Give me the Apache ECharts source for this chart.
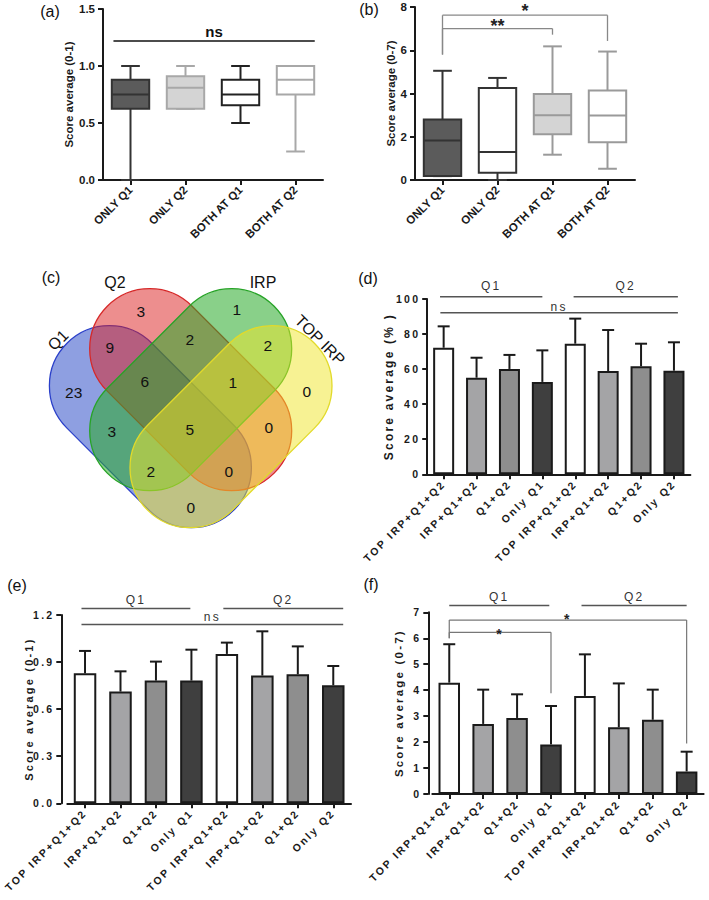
<!DOCTYPE html>
<html><head><meta charset="utf-8">
<script src="https://cdn.jsdelivr.net/npm/echarts@6.0.0/dist/echarts.min.js"></script>
<style>
html,body{margin:0;padding:0;background:#fff;}
.layer{position:absolute;left:0;top:0;width:709px;height:900px;}
.spaced text{letter-spacing:2.2px;}
</style></head><body>
<div id="pa" class="layer"></div>
<div id="pb" class="layer"></div>
<div id="pc" class="layer"></div>
<div id="pd" class="layer spaced"></div>
<div id="pe" class="layer spaced"></div>
<div id="pf" class="layer spaced"></div>
<script>
// ---------------- DATA ----------------
// (a) & (b) box plots: [min, Q1, median, Q3, max]
const boxCats = ['ONLY Q1', 'ONLY Q2', 'BOTH AT Q1', 'BOTH AT Q2'];
const aMin = [0, 0.624, 0.5, 0.25];
const aQ1  = [0.624, 0.624, 0.656, 0.75];
const aMed = [0.75, 0.809, 0.75, 0.879];
const aQ3  = [0.879, 0.909, 0.879, 1.0];
const aMax = [1.0, 1.0, 1.0, 1.0];
const aTicks = ['0.0', '0.5', '1.0', '1.5'];

const bMin = [0.18, 0, 1.17, 0.52];
const bQ1  = [0.18, 0.34, 2.11, 1.74];
const bMed = [1.83, 1.29, 3.0, 2.98];
const bQ3  = [2.8, 4.25, 3.98, 4.14];
const bMax = [5.05, 4.72, 6.18, 5.94];
const bTicks = ['0', '2', '4', '6', '8'];

// (c) Venn diagram
const vennSets = ['Q1', 'Q2', 'IRP', 'TOP IRP'];
const vennRegions = ['Q2 only', 'IRP only', 'Q1+Q2', 'Q2+IRP', 'IRP+TOP IRP', 'Q1 only',
  'Q1+Q2+IRP', 'Q2+IRP+TOP IRP', 'TOP IRP only', 'Q1+IRP', 'All four', 'Q2+TOP IRP',
  'Q1+IRP+TOP IRP', 'Q1+Q2+TOP IRP', 'Q1+TOP IRP'];
const vennCounts = [3, 1, 9, 2, 2, 23, 6, 1, 0, 3, 5, 0, 2, 0, 0];

// (d) (e) (f) bar charts: mean and SD
const barCats = ['TOP IRP+Q1+Q2', 'IRP+Q1+Q2', 'Q1+Q2', 'Only Q1', 'TOP IRP+Q1+Q2', 'IRP+Q1+Q2', 'Q1+Q2', 'Only Q2'];
const dMean = [72.2, 55.1, 60.1, 52.7, 74.5, 58.9, 61.6, 59.1];
const dSD   = [12.2, 11.4, 8.0, 18.0, 14.3, 23.4, 12.9, 16.2];
const dTicks = ['0', '20', '40', '60', '80', '100'];
const eMean = [0.828, 0.712, 0.782, 0.782, 0.952, 0.814, 0.822, 0.752];
const eSD   = [0.143, 0.129, 0.121, 0.197, 0.072, 0.282, 0.178, 0.123];
const eTicks = ['0.0', '0.3', '0.6', '0.9', '1.2'];
const fMean = [4.29, 2.70, 2.93, 1.91, 3.78, 2.57, 2.86, 0.87];
const fSD   = [1.48, 1.32, 0.91, 1.48, 1.60, 1.69, 1.16, 0.76];
const fTicks = ['0', '1', '2', '3', '4', '5', '6', '7'];

// ---------------- STYLE / LAYOUT ----------------
const FF = 'Arial, "Liberation Sans", Helvetica, sans-serif';
const INK = '#1a1a1a';
const barFill = ['#ffffff', '#a4a4a6', '#8e8e8e', '#3f3f3f', '#ffffff', '#a4a4a6', '#8e8e8e', '#3f3f3f'];
const aFill = ['#5b5b5b', '#d4d4d4', '#ffffff', '#ffffff'];
const aStroke = ['#333333', '#a8a8a8', '#222222', '#a8a8a8'];
const bFill = ['#5b5b5b', '#ffffff', '#d4d4d4', '#ffffff'];
const bStroke = ['#333333', '#333333', '#9a9a9a', '#9a9a9a'];

function mk(id) {
  return echarts.init(document.getElementById(id), null, {renderer: 'svg', width: 709, height: 900});
}

function catAxis(cats, fs, margin) {
  return {type: 'category', data: cats, boundaryGap: true,
    axisLine: {show: true, onZero: false, lineStyle: {color: INK, width: 2}},
    axisTick: {show: true, alignWithLabel: true, length: 5, lineStyle: {color: INK, width: 2}},
    axisLabel: {show: true, interval: 0, rotate: 45, margin: margin, color: INK, fontWeight: 'bold', fontSize: fs, fontFamily: FF},
    splitLine: {show: false}};
}
function valAxis(o) {
  return {type: 'value', min: o.min, max: o.max, interval: o.interval, offset: o.offset || 0,
    axisLine: {show: true, onZero: false, lineStyle: {color: INK, width: 2}},
    axisTick: {show: true, length: 5, lineStyle: {color: INK, width: 2}},
    axisLabel: {show: true, margin: o.lm || 7, color: INK, fontWeight: 'bold', fontSize: o.lfs, fontFamily: FF,
      formatter: function (v) { return o.ticks[Math.round((v - o.min) / o.interval)]; }},
    splitLine: {show: false},
    name: o.name, nameLocation: 'middle', nameGap: o.nameGap, nameRotate: 90,
    nameTextStyle: {color: INK, fontWeight: 'bold', fontSize: o.nfs, fontFamily: FF}};
}
function txt(x, y, text, s) {
  return {type: 'text', x: x, y: y, rotation: s.rot || 0,
    style: {text: text, fill: s.color || INK, fontSize: s.fs, fontWeight: s.fw || 'normal', fontFamily: FF,
      align: 'center', verticalAlign: 'middle', textAlign: 'center', textVerticalAlign: 'middle'}};
}
function annotRender(annots) {
  return function (params, api) {
    const a = annots[params.dataIndex];
    const bw = api.size([1, 0])[0];
    const X = (i, f) => api.coord([i, 0])[0] + f * bw;
    const Y = v => api.coord([0, v])[1];
    const x0 = X(a.i0, a.f0), x1 = X(a.i1, a.f1), y = Y(a.y);
    const ls = {stroke: a.color, lineWidth: a.lw};
    const ch = [{type: 'line', shape: {x1: x0, y1: y, x2: x1, y2: y}, style: ls}];
    if (a.d0 != null) ch.push({type: 'line', shape: {x1: x0, y1: y, x2: x0, y2: Y(a.d0)}, style: ls});
    if (a.d1 != null) ch.push({type: 'line', shape: {x1: x1, y1: y, x2: x1, y2: Y(a.d1)}, style: ls});
    if (a.text) ch.push(txt((x0 + x1) / 2, Y(a.ty), a.text, {color: a.tc, fs: a.fs, fw: a.fw}));
    return {type: 'group', children: ch};
  };
}
function boxRender(fills, strokes) {
  return function (params, api) {
    const k = params.dataIndex;
    const i = api.value(0);
    const pMin = api.coord([i, api.value(1)]), pQ1 = api.coord([i, api.value(2)]),
      pMed = api.coord([i, api.value(3)]), pQ3 = api.coord([i, api.value(4)]), pMax = api.coord([i, api.value(5)]);
    const x = pMed[0];
    const bw = api.size([1, 0])[0] * 0.68;
    const cw = bw * 0.5;
    const st = {stroke: strokes[k], lineWidth: 2};
    return {type: 'group', children: [
      {type: 'line', shape: {x1: x, y1: pQ3[1], x2: x, y2: pMax[1]}, style: st},
      {type: 'line', shape: {x1: x - cw / 2, y1: pMax[1], x2: x + cw / 2, y2: pMax[1]}, style: st},
      {type: 'line', shape: {x1: x, y1: pQ1[1], x2: x, y2: pMin[1]}, style: st},
      {type: 'line', shape: {x1: x - cw / 2, y1: pMin[1], x2: x + cw / 2, y2: pMin[1]}, style: st},
      {type: 'rect', shape: {x: x - bw / 2, y: pQ3[1], width: bw, height: pQ1[1] - pQ3[1]},
        style: {fill: fills[k], stroke: strokes[k], lineWidth: 2}},
      {type: 'line', shape: {x1: x - bw / 2, y1: pMed[1], x2: x + bw / 2, y2: pMed[1]}, style: st}
    ]};
  };
}
function errRender(params, api) {
  const p0 = api.coord([api.value(0), api.value(1)]);
  const p1 = api.coord([api.value(0), api.value(2)]);
  const cw = 12;
  return {type: 'group', children: [
    {type: 'line', shape: {x1: p0[0], y1: p0[1], x2: p1[0], y2: p1[1]}, style: {stroke: INK, lineWidth: 2}},
    {type: 'line', shape: {x1: p1[0] - cw / 2, y1: p1[1], x2: p1[0] + cw / 2, y2: p1[1]}, style: {stroke: INK, lineWidth: 2}}
  ]};
}

function boxOption(o) {
  return {animation: false, backgroundColor: 'transparent',
    grid: {left: o.g[0], top: o.g[1], width: o.g[2], height: o.g[3]},
    xAxis: catAxis(boxCats, 11.5, 8),
    yAxis: valAxis({min: 0, max: o.max, interval: o.interval, ticks: o.ticks, lfs: 11.5, lm: 8,
      name: 'Score average (' + o.range + ')', nameGap: o.nameGap, nfs: 11.5}),
    series: [
      {type: 'custom', silent: true, clip: false, renderItem: boxRender(o.fills, o.strokes),
        encode: {x: 0, y: [1, 2, 3, 4, 5]},
        data: boxCats.map((c, i) => [i, o.mn[i], o.q1[i], o.md[i], o.q3[i], o.mx[i]])},
      {type: 'custom', silent: true, clip: false, renderItem: annotRender(o.annots), z: 5,
        encode: {x: 0, y: 1}, data: o.annots.map(a => [a.i0, a.y])}
    ]};
}
function barOption(o) {
  return {animation: false, backgroundColor: 'transparent',
    grid: {left: o.g[0], top: o.g[1], width: o.g[2], height: o.g[3]},
    xAxis: catAxis(barCats, 10.5, 8),
    yAxis: valAxis({min: 0, max: o.max, interval: o.interval, ticks: o.ticks, lfs: 10.5, lm: 7, offset: o.offset,
      name: o.name, nameGap: o.nameGap, nfs: o.nfs}),
    series: [
      {type: 'bar', silent: true, barWidth: o.bw, z: 2,
        itemStyle: {borderColor: INK, borderWidth: 2},
        data: o.mean.map((v, i) => ({value: v, itemStyle: {color: barFill[i], borderColor: INK, borderWidth: 2}}))},
      {type: 'custom', silent: true, clip: false, renderItem: errRender, z: 3,
        encode: {x: 0, y: [1, 2]}, data: o.mean.map((v, i) => [i, v, v + o.sd[i]])},
      {type: 'custom', silent: true, clip: false, renderItem: annotRender(o.annots), z: 4,
        encode: {x: 0, y: 1}, data: o.annots.map(a => [a.i0, a.y])}
    ]};
}

// ---------------- (a) ----------------
mk('pa').setOption(boxOption({g: [103, 9, 220, 171], max: 1.5, interval: 0.5, ticks: aTicks, range: '0-1', nameGap: 25,
  mn: aMin, q1: aQ1, md: aMed, q3: aQ3, mx: aMax, fills: aFill, strokes: aStroke,
  annots: [{i0: 0, f0: -0.31, i1: 3, f1: 0.35, y: 1.22, text: 'ns', ty: 1.30, color: '#111', lw: 1.5, tc: '#111', fs: 15, fw: 'bold'}]}));

// ---------------- (b) ----------------
mk('pb').setOption(boxOption({g: [415, 7, 220, 173], max: 8, interval: 2, ticks: bTicks, range: '0-7', nameGap: 17,
  mn: bMin, q1: bQ1, md: bMed, q3: bQ3, mx: bMax, fills: bFill, strokes: bStroke,
  annots: [
    {i0: 0, f0: 0, i1: 3, f1: 0, y: 7.62, d0: 5.8, d1: 6.43, text: '*', ty: 7.8, color: '#888', lw: 1.3, tc: '#222', fs: 18, fw: 'bold'},
    {i0: 0, f0: 0, i1: 2, f1: 0, y: 7.0, d0: 5.8, d1: 6.72, text: '**', ty: 7.1, color: '#888', lw: 1.3, tc: '#222', fs: 18, fw: 'bold'}
  ]}));

// ---------------- (c) Venn + panel letters ----------------
const vennCenter = [[-4.03, 0], [0, 3.7], [0, 3.7], [4.03, 0]];
const vennAngle = [-45, -45, 45, 45];
const vennHalfLen = 5.8, vennRadius = 6.0;
const vennFill = ['rgba(50,80,200,0.55)', 'rgba(220,30,30,0.5)', 'rgba(40,170,40,0.55)', 'rgba(240,230,40,0.5)'];
const vennStroke = ['#2a3fc9', '#d62828', '#27a327', '#e2da2a'];
const vennPos = [[-5.0, 11.5], [4.6, 11.7], [-8.1, 7.9], [-0.1, 8.7], [7.7, 8.1], [-11.7, 3.4], [-4.6, 4.5], [4.2, 4.4],
  [11.6, 3.5], [-7.9, -0.5], [-0.1, -0.3], [7.8, -0.1], [-4.0, -4.5], [3.8, -4.5], [0, -8.1]];
const vennLabelPos = [[-13.27, 8.67, 45], [-7.57, 14.47, 0], [7.23, 14.47, 0], [12.93, 8.67, -45]];

mk('pc').setOption({animation: false, backgroundColor: 'transparent',
  grid: {left: 40.7, top: 276.7, width: 300, height: 300},
  xAxis: {type: 'value', min: -15, max: 15, show: false},
  yAxis: {type: 'value', min: -15, max: 15, show: false},
  series: [
    {type: 'custom', silent: true, clip: false,
      data: vennSets.map((s, i) => [vennCenter[i][0], vennCenter[i][1]]),
      renderItem: function (params, api) {
        const i = params.dataIndex;
        const c = api.coord([api.value(0), api.value(1)]);
        const u = api.size([1, 1])[0];
        const L = vennHalfLen * u, R = vennRadius * u;
        return {type: 'rect', x: c[0], y: c[1], rotation: vennAngle[i] * Math.PI / 180,
          shape: {x: -L - R, y: -R, width: 2 * (L + R), height: 2 * R, r: R},
          style: {fill: vennFill[i], stroke: vennStroke[i], lineWidth: 1.3}};
      }},
    {type: 'custom', silent: true, clip: false, z: 5,
      data: vennCounts.map((c, i) => [vennPos[i][0], vennPos[i][1], c]),
      renderItem: function (params, api) {
        const p = api.coord([api.value(0), api.value(1)]);
        return txt(p[0], p[1], String(vennCounts[params.dataIndex]), {fs: 15.5, color: '#111'});
      }},
    {type: 'custom', silent: true, clip: false, z: 5,
      data: vennSets.map((s, i) => [vennLabelPos[i][0], vennLabelPos[i][1]]),
      renderItem: function (params, api) {
        const i = params.dataIndex;
        const p = api.coord([api.value(0), api.value(1)]);
        return txt(p[0], p[1], vennSets[i], {fs: 16, color: '#111', rot: vennLabelPos[i][2] * Math.PI / 180});
      }}
  ],
  graphic: [
    ['(a)', 50, 11], ['(b)', 369, 9], ['(c)', 51, 277], ['(d)', 368, 278], ['(e)', 17, 585], ['(f)', 371, 584]
  ].map(t => ({type: 'text', x: t[1], y: t[2], silent: true,
    style: {text: t[0], fill: '#111', fontSize: 16, fontFamily: FF, align: 'center', verticalAlign: 'middle',
      textAlign: 'center', textVerticalAlign: 'middle'}}))
});

// ---------------- (d) ----------------
const qStyle = {color: '#555', lw: 1.5, tc: '#333', fs: 12};
mk('pd').setOption(barOption({g: [427.2, 299, 263.2, 175.3], max: 100, interval: 20, ticks: dTicks, offset: 0,
  name: 'Score average (% )', nameGap: 32, nfs: 12, bw: 21, mean: dMean, sd: dSD,
  annots: [
    Object.assign({i0: 0, f0: -0.11, i1: 3, f1: 0, y: 101.3, text: 'Q1', ty: 107.4}, qStyle),
    Object.assign({i0: 4, f0: -0.05, i1: 7, f1: 0.12, y: 101.3, text: 'Q2', ty: 107.4}, qStyle),
    Object.assign({i0: 0, f0: -0.1, i1: 7, f1: 0.12, y: 92.2, text: 'ns', ty: 95.3}, qStyle)
  ]}));

// ---------------- (e) ----------------
mk('pe').setOption(barOption({g: [67.3, 615, 283.7, 188.3], max: 1.2, interval: 0.3, ticks: eTicks, offset: 6,
  name: 'Score average (0-1)', nameGap: 27, nfs: 11, bw: 22.5, mean: eMean, sd: eSD,
  annots: [
    Object.assign({i0: 0, f0: -0.1, i1: 3, f1: -0.03, y: 1.242, text: 'Q1', ty: 1.296}, qStyle),
    Object.assign({i0: 4, f0: -0.1, i1: 7, f1: 0.28, y: 1.242, text: 'Q2', ty: 1.296}, qStyle),
    Object.assign({i0: 0, f0: -0.1, i1: 7, f1: 0.28, y: 1.14, text: 'ns', ty: 1.19}, qStyle)
  ]}));

// ---------------- (f) ----------------
mk('pf').setOption(barOption({g: [432.3, 612.3, 271.3, 181.7], max: 7, interval: 1, ticks: fTicks, offset: 4,
  name: 'Score average (0-7)', nameGap: 23, nfs: 11.5, bw: 21.5, mean: fMean, sd: fSD,
  annots: [
    Object.assign({i0: 0, f0: 0, i1: 3, f1: -0.05, y: 7.26, text: 'Q1', ty: 7.58}, qStyle),
    Object.assign({i0: 4, f0: -0.1, i1: 7, f1: 0, y: 7.26, text: 'Q2', ty: 7.58}, qStyle),
    {i0: 0, f0: 0, i1: 7, f1: 0, y: 6.70, d0: 6.0, d1: 1.95, text: '*', ty: 6.74, color: '#777', lw: 1.2, tc: '#222', fs: 14, fw: 'bold'},
    {i0: 0, f0: 0, i1: 3, f1: 0, y: 6.23, d0: 6.0, d1: 3.88, text: '*', ty: 6.17, color: '#777', lw: 1.2, tc: '#222', fs: 14, fw: 'bold'}
  ]}));
</script>
</body></html>
